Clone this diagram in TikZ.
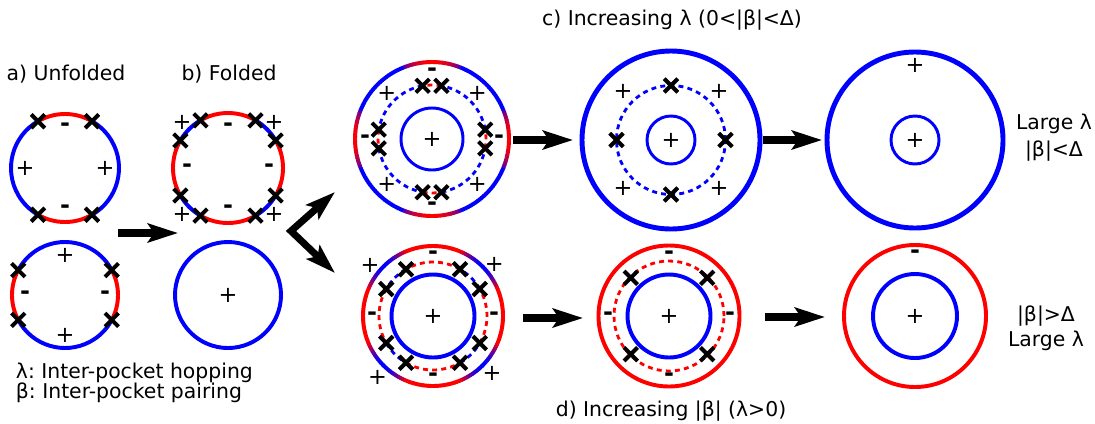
\documentclass[tikz,border=0pt]{standalone}
\usepackage{fontspec}
\setmainfont{DejaVu Sans}
\usepackage{tikz}
\usetikzlibrary{shapes.misc,arrows.meta,positioning}
\frenchspacing

% one coloured piece of a pocket: centre, radius, from, to, style
\newcommand{\pocketarc}[5]{\draw[#5] (#1) ++(#3:#2) arc[start angle=#3, end angle=#4, radius=#2];}

\begin{document}
\begin{tikzpicture}[
        x=0.025cm, y=0.025cm,
        every node/.style={font=\fontsize{14.5}{17}\selectfont},
        ring/.style={line width=2.8pt},
        thickring/.style={line width=3.5pt},
        thinring/.style={line width=2.1pt},
        dashring/.style={line width=2pt, dash pattern=on 3.5pt off 3pt},
        xmark/.style={cross out, draw=black, line width=2.8pt, minimum size=0.24cm, inner sep=0pt},
        plus/.style={inner sep=0pt, font=\fontsize{16}{16}\selectfont},
        minus/.style={inner sep=0pt, font=\fontsize{17}{17}\selectfont\bfseries},
        bigarrow/.style={-{Stealth[length=0.75cm, width=0.47cm, inset=0.15cm]}, line width=5pt},
        forkarrow/.style={{Stealth[length=0.75cm, width=0.47cm, inset=0.15cm]}-{Stealth[length=0.75cm, width=0.47cm, inset=0.15cm]}, line width=5pt, line join=miter}
        ]

        \useasboundingbox (0,0) rectangle (1095,-423);

        % Pocket centres
        \coordinate (a1) at (65,-168);
        \coordinate (a2) at (65,-295);
        \coordinate (b1) at (228,-168);
        \coordinate (b2) at (228,-295);
        \coordinate (c1) at (432,-139);
        \coordinate (c2) at (671,-140);
        \coordinate (c3) at (915,-140);
        \coordinate (d1) at (433,-316);
        \coordinate (d2) at (669,-316);
        \coordinate (d3) at (915,-316);

        % Titles
        \node (ta) at (66,-74) {a) Unfolded};
        \node (tb) at (229,-74) {b) Folded};
        \node (tc) at (672,-20) {c) Increasing λ (0<|β|<Δ)};
        \node (td) at (671,-411) {d) Increasing |β| (λ>0)};

        % a) unfolded pockets
        \pocketarc{a1}{54}{60}{120}{ring,red}
        \pocketarc{a1}{54}{120}{240}{ring,blue}
        \pocketarc{a1}{54}{240}{300}{ring,red}
        \pocketarc{a1}{54}{-60}{60}{ring,blue}
        \foreach \ang [count=\i] in {60,120,240,300}
            \path (a1) ++(\ang:54) node[xmark] (a1x\i) {};
        \foreach \ang [count=\i] in {90,270}
            \path (a1) ++(\ang:41) node[minus] (a1m\i) {-};
        \foreach \ang [count=\i] in {0,180}
            \path (a1) ++(\ang:40) node[plus] (a1p\i) {+};

        \pocketarc{a2}{53}{-28}{28}{ring,red}
        \pocketarc{a2}{53}{28}{152}{ring,blue}
        \pocketarc{a2}{53}{152}{208}{ring,red}
        \pocketarc{a2}{53}{208}{332}{ring,blue}
        \foreach \ang [count=\i] in {28,152,208,332}
            \path (a2) ++(\ang:53) node[xmark] (a2x\i) {};
        \foreach \ang [count=\i] in {0,180}
            \path (a2) ++(\ang:40) node[minus] (a2m\i) {-};
        \foreach \ang [count=\i] in {90,270}
            \path (a2) ++(\ang:40) node[plus] (a2p\i) {+};

        % b) folded pockets
        \foreach \q in {0,90,180,270} {
            \pocketarc{b1}{55}{\q-30}{\q+30}{ring,red}
            \pocketarc{b1}{55}{\q+30}{\q+60}{ring,blue}
        }
        \foreach \ang [count=\i] in {30,60,120,150,210,240,300,330}
            \path (b1) ++(\ang:55) node[xmark] (b1x\i) {};
        \foreach \ang [count=\i] in {0,90,180,270}
            \path (b1) ++(\ang:41) node[minus] (b1m\i) {-};
        \foreach \ang [count=\i] in {45,135,225,315}
            \path (b1) ++(\ang:65) node[plus] (b1p\i) {+};

        \draw[ring,blue] (b2) circle (53);
        \node[plus] (b2p) at (b2) {+};

        % c) increasing hopping
        \foreach \a in {0,2,...,358} {
            \pgfmathtruncatemacro\p{100*sqrt(max(0,cos(4*(\a+1))))}
            \draw[ring, red!\p!blue] (c1) ++(\a:77) arc[start angle=\a, end angle=\a+2.4, radius=77];
        }
        \foreach \q in {0,90,180,270} {
            \pocketarc{c1}{54}{\q+10}{\q+80}{dashring,blue}
            \pocketarc{c1}{54}{\q-10}{\q+10}{dashring,red}
        }
        \draw[thinring,blue] (c1) circle (31);
        \foreach \ang [count=\i] in {10,80,100,170,190,260,280,350}
            \path (c1) ++(\ang:54) node[xmark] (c1x\i) {};
        \foreach \ang [count=\i] in {0,90,180,270}
            \path (c1) ++(\ang:67) node[minus] (c1m\i) {-};
        \foreach \ang [count=\i] in {45,135,225,315}
            \path (c1) ++(\ang:64) node[plus] (c1p\i) {+};
        \node[plus] (c1c) at (c1) {+};

        \draw[thickring,blue] (c2) circle (89);
        \draw[dashring,blue] (c2) circle (54.5);
        \draw[thinring,blue] (c2) circle (24);
        \foreach \ang [count=\i] in {0,90,180,270}
            \path (c2) ++(\ang:54.5) node[xmark] (c2x\i) {};
        \foreach \ang [count=\i] in {45,135,225,315}
            \path (c2) ++(\ang:68) node[plus] (c2p\i) {+};
        \node[plus] (c2c) at (c2) {+};

        \draw[thickring,blue] (c3) circle (88);
        \draw[thinring,blue] (c3) circle (24);
        \path (c3) ++(90:75) node[plus] (c3p) {+};
        \node[plus] (c3c) at (c3) {+};
        \node[align=center, font=\fontsize{14.5}{19}\selectfont] (tc3) at (1054,-138) {Large λ\\|β|<Δ};

        % d) increasing pairing
        \foreach \a in {0,2,...,358} {
            \pgfmathtruncatemacro\p{100-100*max(0,-cos(4*(\a+1)))}
            \draw[ring, red!\p!blue] (d1) ++(\a:70) arc[start angle=\a, end angle=\a+2.4, radius=70];
        }
        \foreach \q in {0,90,180,270} {
            \pocketarc{d1}{54}{\q+30}{\q+60}{dashring,blue}
            \pocketarc{d1}{54}{\q+60}{\q+120}{dashring,red}
        }
        \draw[ring,blue] (d1) circle (41.5);
        \foreach \ang [count=\i] in {30,60,120,150,210,240,300,330}
            \path (d1) ++(\ang:54) node[xmark] (d1x\i) {};
        \foreach \ang [count=\i] in {0,90,180,270}
            \path (d1) ++(\ang:61) node[minus] (d1m\i) {-};
        \foreach \ang/\r [count=\i] in {40/80,141/81,228/83,316/82}
            \path (d1) ++(\ang:\r) node[plus] (d1p\i) {+};
        \node[plus] (d1c) at (d1) {+};

        \draw[ring,red] (d2) circle (70.5);
        \draw[dashring,red] (d2) circle (55);
        \draw[ring,blue] (d2) circle (41.5);
        \foreach \ang [count=\i] in {45,135,225,315}
            \path (d2) ++(\ang:54) node[xmark] (d2x\i) {};
        \foreach \ang [count=\i] in {0,90,180,270}
            \path (d2) ++(\ang:61) node[minus] (d2m\i) {-};
        \node[plus] (d2c) at (d2) {+};

        \draw[ring,red] (d3) circle (71);
        \draw[ring,blue] (d3) circle (42);
        \path (d3) ++(90:62) node[minus] (d3m) {-};
        \node[plus] (d3c) at (d3) {+};
        \node[align=center, font=\fontsize{14.5}{17.7}\selectfont] (td3) at (1046,-328) {|β|>Δ\\Large λ};

        % Arrow ends
        \coordinate (ab0) at (118,-233);
        \coordinate (ab1) at (178,-233);
        \coordinate (fk) at (291,-231);
        \coordinate (fku) at (335,-192);
        \coordinate (fkd) at (335,-273);
        \coordinate (c12s) at (513,-140);
        \coordinate (c12e) at (573,-140);
        \coordinate (c23s) at (763,-140);
        \coordinate (c23e) at (822,-140);
        \coordinate (d12s) at (523,-318);
        \coordinate (d12e) at (583,-318);
        \coordinate (d23s) at (765,-317);
        \coordinate (d23e) at (825,-317);

        \draw[bigarrow] (ab0) -- (ab1);
        \draw[forkarrow] (fku) -- (fk) -- (fkd);
        \draw[bigarrow] (c12s) -- (c12e);
        \draw[bigarrow] (c23s) -- (c23e);
        \draw[bigarrow] (d12s) -- (d12e);
        \draw[bigarrow] (d23s) -- (d23e);

        % Legend
        \node[align=left, anchor=west, font=\fontsize{14.5}{14.2}\selectfont] (legend) at (11,-383) {λ: Inter-pocket hopping\\β: Inter-pocket pairing};

    \end{tikzpicture}
\end{document}
